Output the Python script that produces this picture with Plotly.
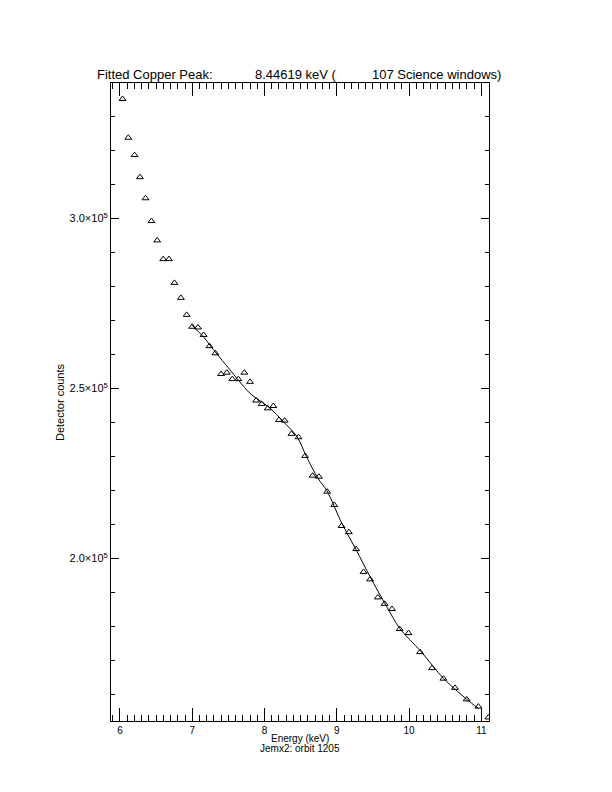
import plotly.graph_objects as go

# ---- data ----
energy_kev = [6.036, 6.115, 6.202, 6.276, 6.354, 6.436, 6.515, 6.598, 6.677, 6.754,
              6.843, 6.923, 6.999, 7.079, 7.157, 7.238, 7.320, 7.399, 7.478, 7.555,
              7.638, 7.721, 7.800, 7.883, 7.961, 8.044, 8.122, 8.200, 8.279, 8.373,
              8.470, 8.562, 8.666, 8.753, 8.867, 8.964, 9.066, 9.167, 9.268, 9.370,
              9.461, 9.568, 9.662, 9.764, 9.869, 9.992, 10.152, 10.318, 10.475, 10.635,
              10.797, 10.959, 11.097]
counts = [335100, 323700, 318600, 312100, 305900, 299200, 293500, 288000, 288000, 281000,
          276600, 271600, 268100, 267900, 265700, 262400, 260300, 254200, 254600, 252700,
          252700, 254600, 251900, 246400, 245400, 244100, 244800, 240700, 240500, 236600,
          235600, 230100, 224300, 224000, 219600, 215700, 209500, 207700, 202700, 196000,
          193800, 188500, 186600, 185100, 179200, 178000, 172400, 167700, 164600, 161900,
          158500, 156400, 153200]

fit_energy = [7.00, 7.16, 7.33, 7.50, 7.65, 7.80, 7.98, 8.08, 8.26, 8.45, 8.58, 8.74,
              8.86, 9.07, 9.27, 9.46, 9.69, 9.87, 10.16, 10.48, 10.80, 10.96]
fit_counts = [268500, 265000, 260400, 256000, 252100, 248500, 245700, 244100, 240200,
              235800, 229900, 223500, 220000, 210300, 202400, 194600, 185800, 179400,
              172700, 164600, 158500, 155800]

x_tick_vals = [6, 7, 8, 9, 10, 11]
x_tick_text = ["6", "7", "8", "9", "10", "11"]
y_tick_vals = [200000, 250000, 300000]
y_tick_text = ["2.0\u00d710<sup>5</sup>", "2.5\u00d710<sup>5</sup>", "3.0\u00d710<sup>5</sup>"]

title_parts = ["Fitted Copper Peak:", "8.44619 keV (", "107 Science windows)"]
x_title = "Energy (keV)"
sub_title = "Jemx2: orbit 1205"
y_title = "Detector counts"

FONT = "Liberation Sans"

fig = go.Figure()
fig.add_trace(go.Scatter(
    x=fit_energy, y=fit_counts, mode="lines",
    line=dict(color="black", width=1, shape="spline", smoothing=0.8),
    showlegend=False, hoverinfo="skip"))
fig.add_trace(go.Scatter(
    x=energy_kev, y=counts, mode="markers",
    marker=dict(symbol="triangle-up-open", size=6, color="black",
                line=dict(color="black", width=1)),
    showlegend=False))

# page has an 8px body margin; figure placed at (8, 8)
OFF = 8
W, H = 604, 784
PL, PR, PT, PB = 111, 489, 83, 721   # plot-area edges in page pixels
L = PL - OFF
T = PT - OFF
R = W - (PR - OFF)
B = H - (PB - OFF)
pw = PR - PL
ph = PB - PT

def px_x(p):
    return (p - PL) / pw

def px_y(p):
    return (PB - p) / ph

fig.update_layout(
    width=W, height=H,
    margin=dict(l=L, r=R, t=T, b=B, pad=0),
    paper_bgcolor="white", plot_bgcolor="white",
    font=dict(family=FONT, size=10, color="black"),
    xaxis=dict(
        range=[5.876, 11.106], showgrid=False, zeroline=False,
        showline=True, linecolor="black", linewidth=1, mirror="allticks",
        ticks="inside", ticklen=13, tickwidth=1, tickcolor="black",
        tickvals=x_tick_vals, ticktext=x_tick_text,
        tickfont=dict(family=FONT, size=10),
        minor=dict(dtick=0.1, tick0=6, ticks="inside", ticklen=6,
                   tickwidth=1, tickcolor="black", showgrid=False),
    ),
    yaxis=dict(
        range=[152150, 339800], showgrid=False, zeroline=False,
        showline=True, linecolor="black", linewidth=1, mirror="allticks",
        ticks="inside", ticklen=8, tickwidth=1, tickcolor="black",
        tickvals=y_tick_vals, ticktext=y_tick_text,
        tickfont=dict(family=FONT, size=11),
        minor=dict(dtick=10000, tick0=0, ticks="inside", ticklen=4,
                   tickwidth=1, tickcolor="black", showgrid=False),
    ),
)

ann = []
title_x_px = [95, 253, 370]
for txt, xp in zip(title_parts, title_x_px):
    ann.append(dict(text=txt, xref="paper", yref="paper", x=px_x(xp), y=px_y(75),
                    xanchor="left", yanchor="middle", showarrow=False,
                    font=dict(family=FONT, size=13, color="black")))
ann.append(dict(text=x_title, xref="paper", yref="paper", x=px_x(300), y=px_y(738),
                xanchor="center", yanchor="middle", showarrow=False,
                font=dict(family=FONT, size=10, color="black")))
ann.append(dict(text=sub_title, xref="paper", yref="paper", x=px_x(300), y=px_y(748),
                xanchor="center", yanchor="middle", showarrow=False,
                font=dict(family=FONT, size=10, color="black")))
ann.append(dict(text=y_title, xref="paper", yref="paper", x=px_x(60), y=px_y(402),
                xanchor="center", yanchor="middle", showarrow=False, textangle=-90,
                font=dict(family=FONT, size=11, color="black")))
fig.update_layout(annotations=ann)

fig.write_html("out.html")
